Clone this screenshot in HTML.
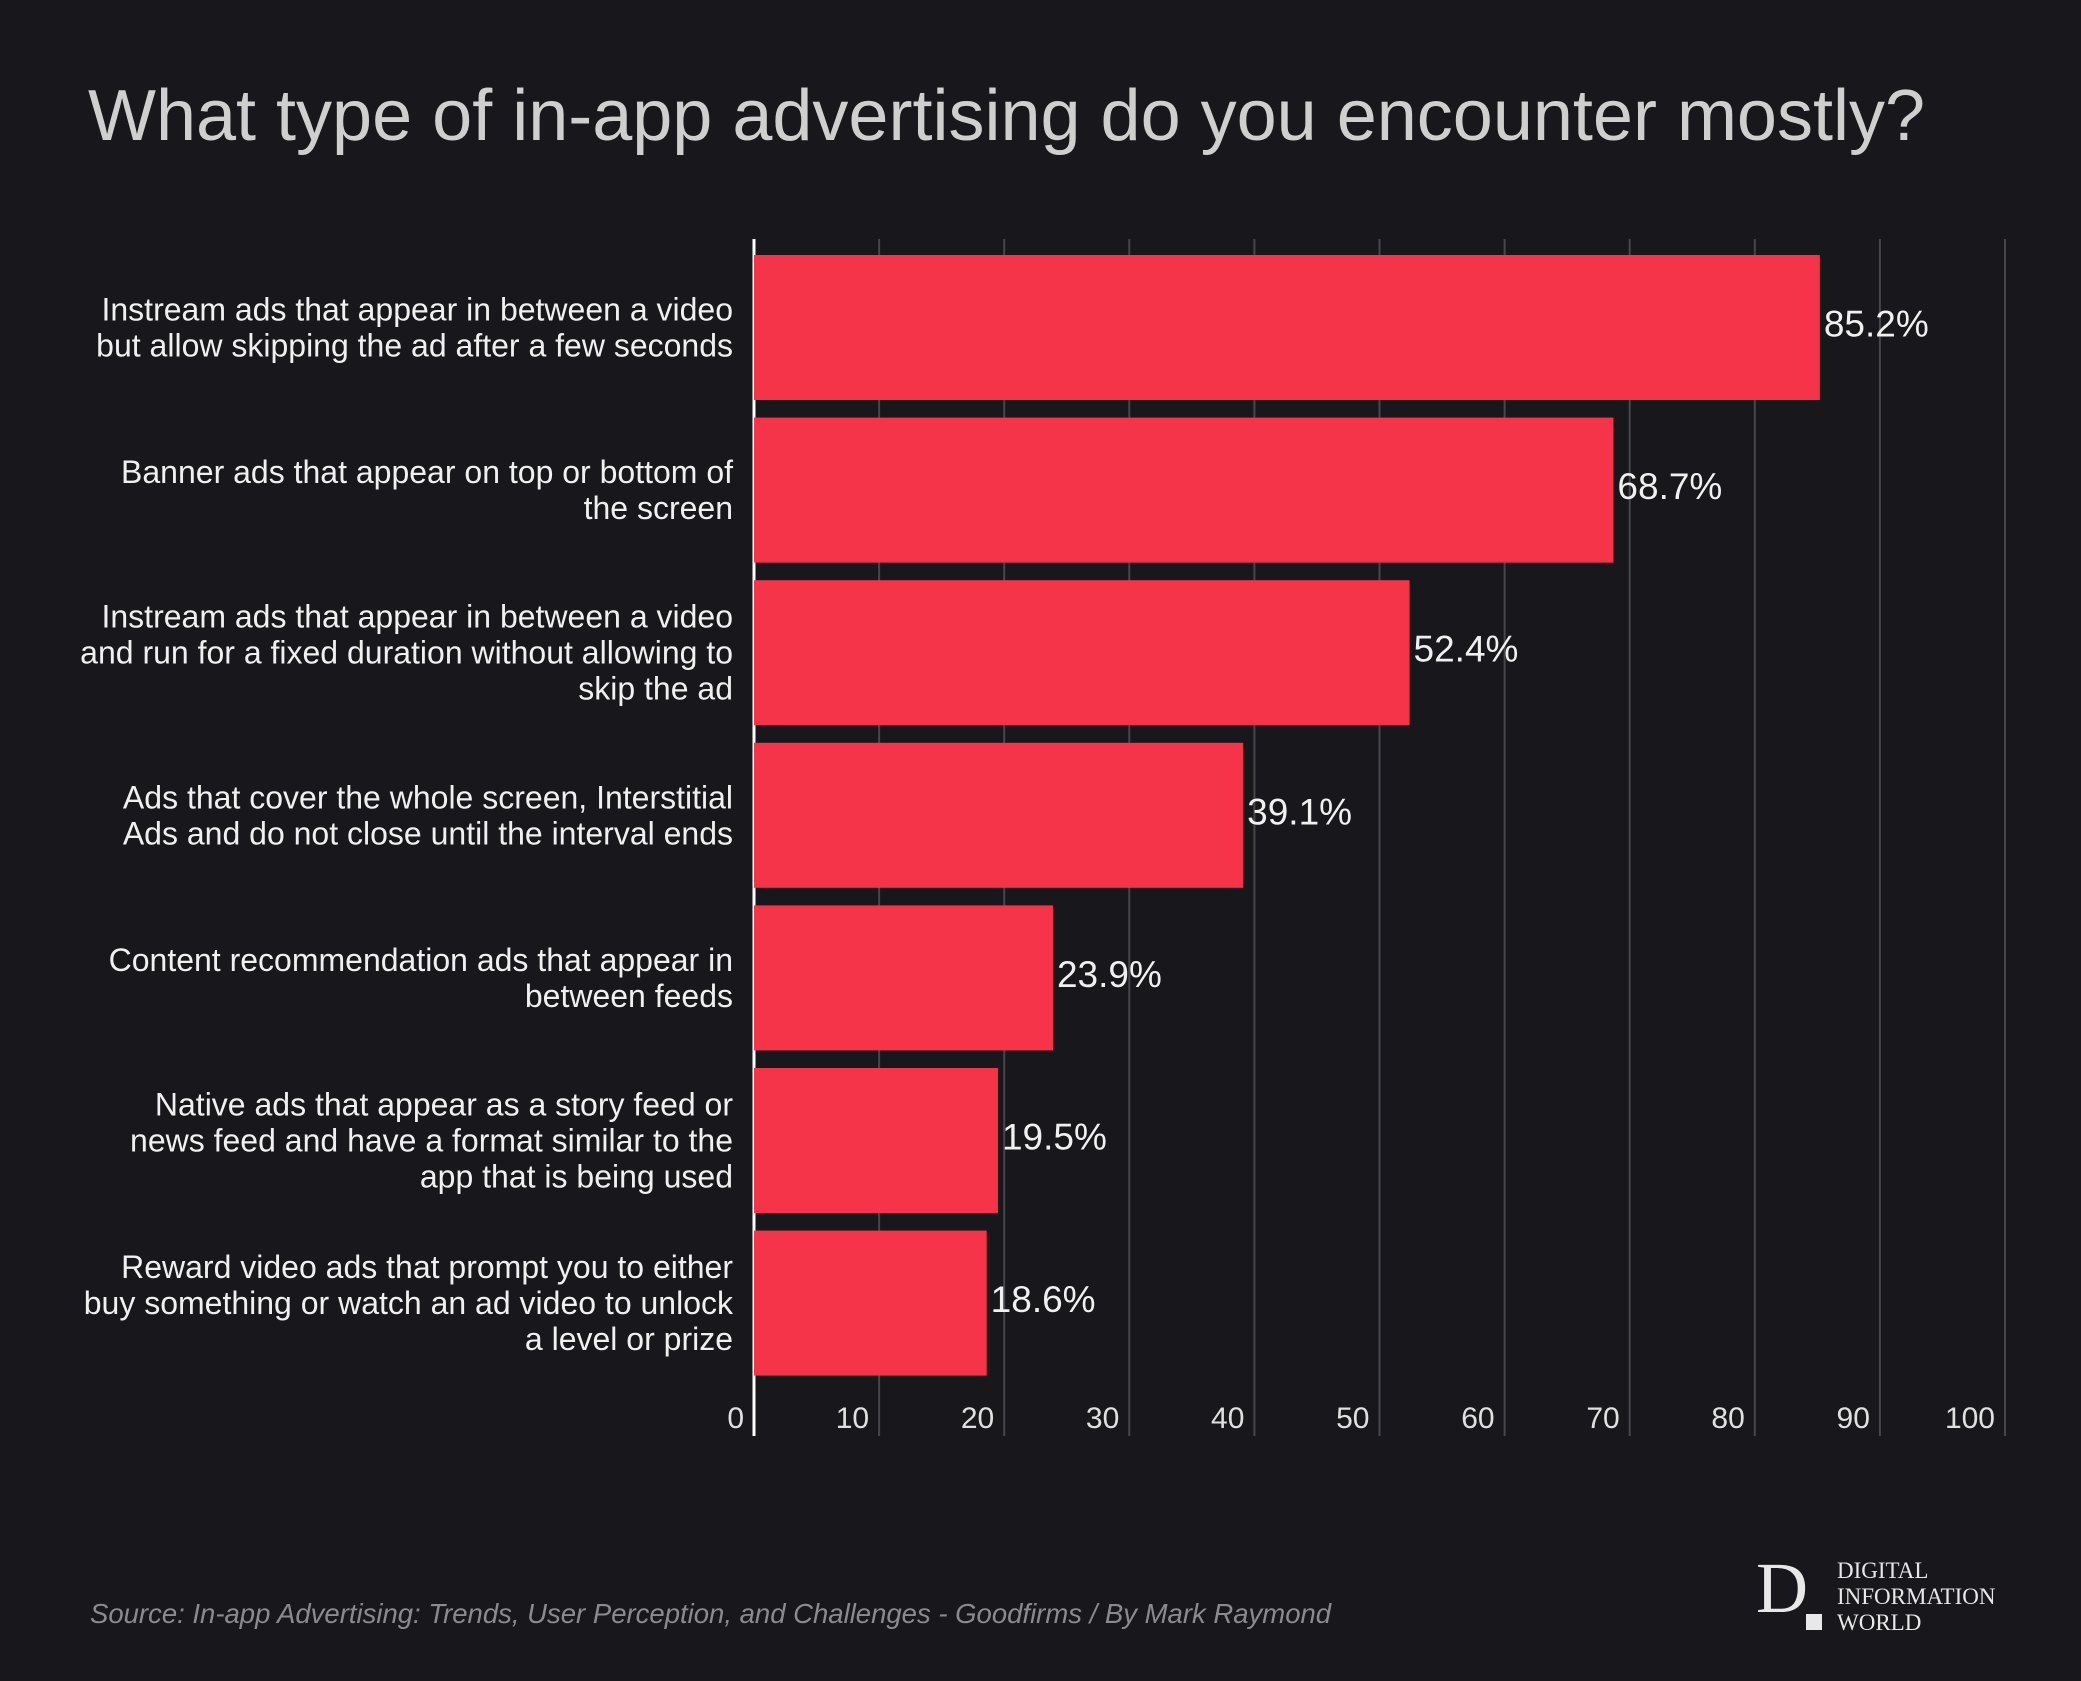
<!DOCTYPE html>
<html><head><meta charset="utf-8"><style>
html,body{margin:0;padding:0;background:#17171c;}
svg{display:block;font-family:"Liberation Sans",sans-serif;}
</style></head><body>
<svg id="chart" width="2081" height="1681" viewBox="0 0 2081 1681">
<rect width="2081" height="1681" fill="#17171c"/>
<text x="88" y="140" font-size="72" fill="#cfcfcf">What type of in-app advertising do you encounter mostly?</text>
<g id="grid"></g><g id="bars"></g><g id="labels"></g>
<text x="90" y="1623" font-size="27.5" font-style="italic" fill="#8a8a8f">Source: In-app Advertising: Trends, User Perception, and Challenges - Goodfirms / By Mark Raymond</text>
<g>
<text x="1756" y="1612" font-family="Liberation Serif,serif" font-size="72" fill="#e8e8e8">D</text>
<rect x="1806" y="1614" width="16" height="16" fill="#e8e8e8"/>
<text x="1837" y="1578" font-family="Liberation Serif,serif" font-size="23" fill="#e8e8e8">DIGITAL</text>
<text x="1837" y="1604" font-family="Liberation Serif,serif" font-size="23" fill="#e8e8e8">INFORMATION</text>
<text x="1837" y="1630" font-family="Liberation Serif,serif" font-size="23" fill="#e8e8e8">WORLD</text>
</g>
</svg>
<script>
const categories=[
["Instream ads that appear in between a video","but allow skipping the ad after a few seconds"],
["Banner ads that appear on top or bottom of","the screen"],
["Instream ads that appear in between a video","and run for a fixed duration without allowing to","skip the ad"],
["Ads that cover the whole screen, Interstitial","Ads and do not close until the interval ends"],
["Content recommendation ads that appear in","between feeds"],
["Native ads that appear as a story feed or","news feed and have a format similar to the","app that is being used"],
["Reward video ads that prompt you to either","buy something or watch an ad video to unlock","a level or prize"]];
const values=[85.2,68.7,52.4,39.1,23.9,19.5,18.6];
const ticks=[0,10,20,30,40,50,60,70,80,90,100];
const NS="http://www.w3.org/2000/svg";
const x0=754,x1=2005,top0=255,step=162.6,bh=145;
const xs=v=>x0+(x1-x0)*v/100;
const ys=i=>top0+i*step;
function mk(t,a,p){const e=document.createElementNS(NS,t);for(const k in a)e.setAttribute(k,a[k]);p.appendChild(e);return e;}
const grid=document.getElementById('grid'),bars=document.getElementById('bars'),labels=document.getElementById('labels');
ticks.forEach(t=>{
 if(t>0){const l=mk('line',{x1:xs(t),x2:xs(t),y1:239,y2:1436,stroke:'#46464c','stroke-width':2},grid);
 
 }
 const tx=mk('text',{x:xs(t)-10,y:1428,'font-size':30,fill:'#e0e0e0','text-anchor':'end'},grid);
 tx.textContent=t;
 
 
});
values.forEach((v,i)=>{
 const r=mk('rect',{x:xs(0),y:ys(i),width:xs(v)-xs(0),height:bh,fill:'#f5344a'},bars);
 
 
 const vt=mk('text',{x:xs(v)+4,y:ys(i)+bh/2+9,'font-size':37,fill:'#f0f0f0'},labels);
 vt.textContent=v.toFixed(1)+'%';
 
 
 const lines=categories[i],n=lines.length,lh=36;
 const c=mk('text',{'font-size':32,fill:'#f0f0f0','text-anchor':'end'},labels);
 
 
 lines.forEach((s,j)=>{const ts=mk('tspan',{x:733,y:ys(i)+bh/2+11+(j-(n-1)/2)*lh},c);ts.textContent=s;});
});
const ax=mk('line',{x1:x0,x2:x0,y1:239,y2:1436,stroke:'#ffffff','stroke-width':3},grid);


</script>
</body></html>
